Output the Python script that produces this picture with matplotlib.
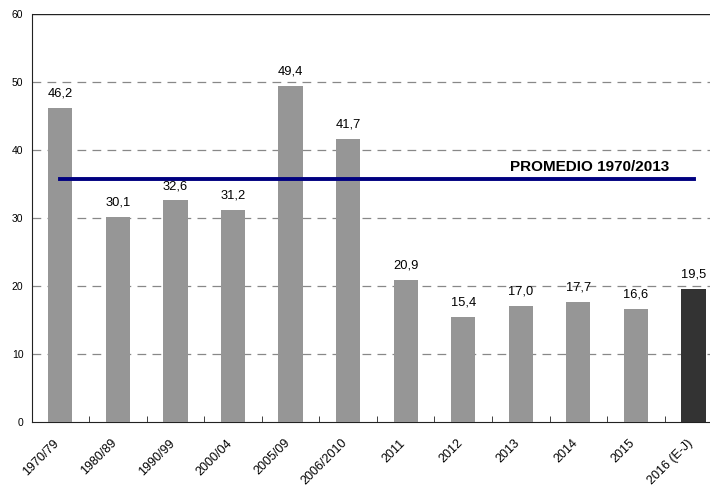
import numpy as np
import matplotlib
matplotlib.use("Agg")
import matplotlib.pyplot as plt
from matplotlib.transforms import ScaledTranslation

plt.rcParams['font.family'] = ['Liberation Sans', 'DejaVu Sans']

periodos = ["1970/79", "1980/89", "1990/99", "2000/04", "2005/09", "2006/2010",
            "2011", "2012", "2013", "2014", "2015", "2016 (E-J)"]
valores = [46.2, 30.1, 32.6, 31.2, 49.4, 41.7, 20.9, 15.4, 17.0, 17.7, 16.6, 19.5]
promedio = 35.7
etiqueta_promedio = "PROMEDIO 1970/2013"

colores = ["#969696"] * (len(valores) - 1) + ["#333333"]

fig = plt.figure(figsize=(7.10, 4.87), dpi=100)
ax = fig.add_axes([31.5 / 710, 65.3 / 487, 690.8 / 710, 407.4 / 487])

x = np.arange(len(valores))
ax.bar(x, valores, width=0.42, color=colores, zorder=3)

for xi, v in zip(x, valores):
    ax.annotate(f"{v:.1f}".replace(".", ","), (xi, v), xytext=(0, 6),
                textcoords="offset points", ha="center", va="bottom", fontsize=9.3)

ax.plot([x[0], x[-1]], [promedio, promedio], color="#000080", lw=2.8, zorder=4)
ax.text(9.2, promedio + 1.8, etiqueta_promedio, ha="center", va="center",
        fontsize=11, fontweight="bold")

ax.set_xlim(-0.5, len(valores) - 0.5)
ax.set_ylim(0, 60)
ax.set_yticks(range(0, 61, 10))
for g in range(10, 60, 10):
    ax.axhline(g, color="#888888", lw=0.9, ls=(0, (7, 5)), zorder=1)
ax.axhline(60, color="#222222", lw=1, zorder=2)

ax.spines["top"].set_visible(False)
ax.spines["right"].set_visible(False)
ax.spines["left"].set_color("#222222")
ax.spines["bottom"].set_color("#222222")

ax.set_xticks(x)
ax.set_xticklabels(periodos, rotation=45, ha="right", rotation_mode="anchor", fontsize=9)
ax.tick_params(axis="x", which="major", length=0, pad=11)
desplaza = ScaledTranslation(-5 / 72, 0, fig.dpi_scale_trans)
for lbl in ax.get_xticklabels():
    lbl.set_transform(lbl.get_transform() + desplaza)
ax.set_xticks(np.arange(0.5, len(valores) - 0.5), minor=True)
ax.tick_params(axis="x", which="minor", direction="in", length=4, color="#222222")
ax.tick_params(axis="y", length=0, pad=5.8, labelsize=7.5)

fig.savefig("out.png", dpi=100)
